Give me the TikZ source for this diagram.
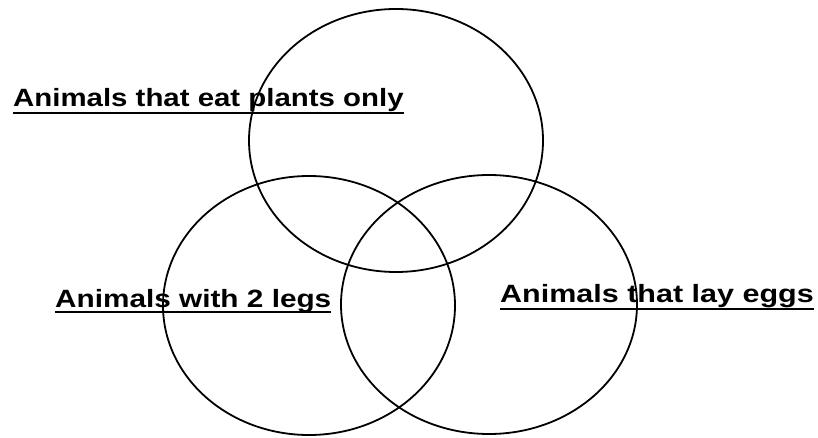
\documentclass[tikz,border=0pt]{standalone}
\usepackage{fontspec}
\setmainfont{Liberation Sans}
\usepackage{graphicx}
\begin{document}
\begin{tikzpicture}[x=1pt,y=-1pt,
  ring/.style={line width=1.8pt},
  lab/.style={anchor=base west, inner sep=0pt, font=\fontsize{25}{30}\selectfont\bfseries},
  uline/.style={line width=1.8pt}]
\useasboundingbox (0,0) rectangle (818,438);
% circles
\draw[ring] (396,140.5) ellipse [x radius=147pt, y radius=131.5pt];
\draw[ring] (309,305.5) ellipse [x radius=146pt, y radius=129.5pt];
\draw[ring] (489,304.5) ellipse [x radius=148pt, y radius=129.5pt];
% labels
\node[lab] (plants) at (13,107) {\scalebox{1.176}[1]{Animals that eat plants only}};
\node[lab] (legs) at (55,307) {\scalebox{1.19}[1]{Animals with 2 legs}};
\node[lab] (eggs) at (500,302) {\scalebox{1.22}[1]{Animals that lay eggs}};
\draw[uline] ([yshift=-6pt]plants.base west) -- ([yshift=-6pt]plants.base east);
\draw[uline] ([yshift=-5pt]legs.base west) -- ([yshift=-5pt]legs.base east);
\draw[uline] ([yshift=-7pt]eggs.base west) -- ([yshift=-7pt]eggs.base east);
\end{tikzpicture}
\end{document}
